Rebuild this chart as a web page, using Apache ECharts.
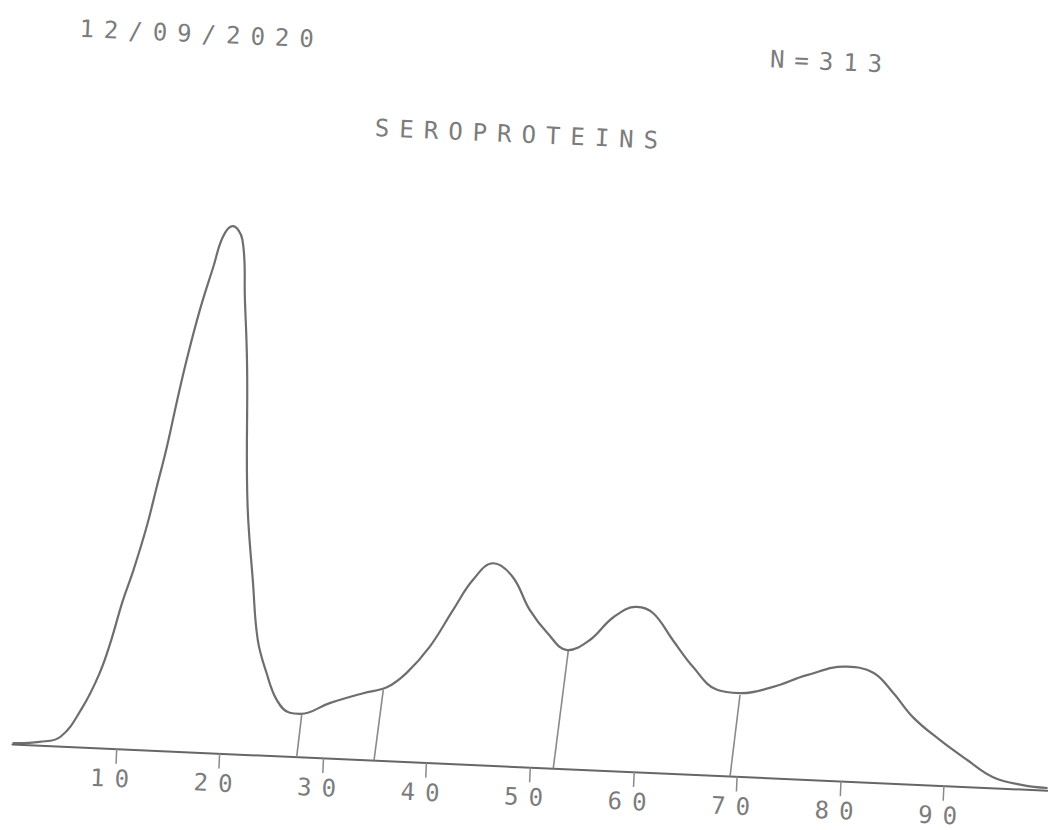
<!DOCTYPE html>
<html>
<head>
<meta charset="utf-8">
<script src="https://cdn.jsdelivr.net/npm/echarts@6/dist/echarts.min.js"></script>
<style>
html,body{margin:0;padding:0;width:1048px;height:830px;overflow:hidden;background:#fff;}
#chart{position:absolute;left:-36px;top:-35px;width:1120px;height:900px;transform:rotate(2.556deg);transform-origin:50% 50%;}
#chart text{letter-spacing:10px;}
</style>
</head>
<body>
<div id="chart"></div>
<script>
// Electrophoresis scan: position along the strip (x) and optical density (y)
var curveX = [0, 2.6, 4.6, 6.6, 8.1, 9.0, 10.0, 10.9, 12.0, 12.8, 13.6, 14.4, 15.2, 16.2, 17.3, 18.1, 19.0, 20.0, 20.5, 21.0, 21.6, 22.5, 23.2, 24.2, 25.3, 26.6, 27.6, 30.4, 33.6, 35.9, 37.7, 39.8, 41.9, 43.7, 45.6, 47.5, 49.3, 51.1, 53.1, 55.2, 57.4, 59.6, 61.2, 63.2, 65.3, 67.7, 69.9, 73.1, 76.3, 80.1, 82.7, 84.7, 86.7, 89.4, 92.1, 94.7, 97.6, 100];
var curveY = [0.2, 0.6, 1.6, 6.7, 12.5, 17.6, 24.6, 29.8, 37.2, 43.9, 50.6, 58.5, 65.8, 73.7, 80.9, 86.0, 87.9, 85.7, 75.7, 64.5, 42.4, 28.6, 19.2, 13.7, 9.3, 7.3, 7.2, 9.2, 11.1, 12.3, 14.8, 19.3, 25.6, 30.8, 33.7, 31.6, 26.2, 22.5, 19.8, 21.6, 25.6, 27.5, 26.6, 22.3, 17.9, 14.3, 13.9, 15.2, 17.4, 19.1, 18.3, 15.1, 11.2, 7.6, 4.5, 1.8, 0.7, 0.4];

// fraction separators
var dividerTopX  = [27.76, 35.52, 53.19, 69.94];
var dividerTopY  = [7.0, 11.8, 19.65, 13.6];
var dividerBaseX = [27.46, 34.93, 52.25, 69.33];

var tickValues = [10, 20, 30, 40, 50, 60, 70, 80, 90];
var dateText = '12/09/2020';
var countText = 'N=313';
var titleText = 'SEROPROTEINS';

var FONT = "24px 'DejaVu Sans Mono'";
var TEXT_COLOR = '#7c7c7c';

var chart = echarts.init(document.getElementById('chart'), null, {renderer: 'svg'});

var series = [{
  type: 'line',
  data: curveX.map(function (x, i) { return [x, curveY[i]]; }),
  smooth: 0.4,
  showSymbol: false,
  lineStyle: {color: '#6e6e6e', width: 2.2},
  silent: true,
  z: 3
}];
dividerTopX.forEach(function (x, i) {
  series.push({
    type: 'line',
    data: [[x, dividerTopY[i]], [dividerBaseX[i], 0]],
    showSymbol: false,
    lineStyle: {color: '#8a8a8a', width: 1.6},
    silent: true,
    z: 2
  });
});

chart.setOption({
  animation: false,
  backgroundColor: '#ffffff',
  grid: {left: 63.69, right: 20.31, top: 201.68, bottom: 98.32, containLabel: false, outerBoundsMode: 'none'},
  xAxis: {
    type: 'value',
    min: 0, max: 100, interval: 10,
    splitLine: {show: false},
    axisLine: {show: true, lineStyle: {color: '#666666', width: 2}},
    axisTick: {show: true, customValues: tickValues, length: 15, lineStyle: {color: '#8a8a8a', width: 1.5}},
    axisLabel: {show: true, customValues: tickValues, margin: 18, color: TEXT_COLOR, fontFamily: 'DejaVu Sans Mono', fontSize: 24}
  },
  yAxis: {
    type: 'value', min: 0, max: 100,
    show: false
  },
  graphic: [
    {type: 'text', x: 221, y: 84, style: {text: dateText, font: FONT, fill: TEXT_COLOR, align: 'center', verticalAlign: 'middle'}},
    {type: 'text', x: 851, y: 83.6, style: {text: countText, font: FONT, fill: TEXT_COLOR, align: 'center', verticalAlign: 'middle'}},
    {type: 'text', x: 545, y: 170, style: {text: titleText, font: FONT, fill: TEXT_COLOR, align: 'center', verticalAlign: 'middle'}}
  ],
  series: series
});
</script>
</body>
</html>
